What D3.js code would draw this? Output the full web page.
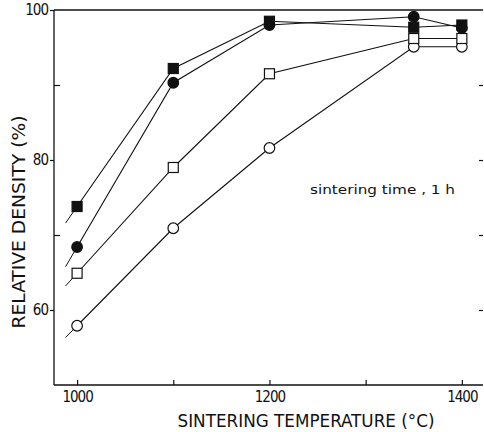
<!DOCTYPE html>
<html>
<head>
<meta charset="utf-8">
<script src="https://cdn.jsdelivr.net/npm/d3@7"></script>
<style>
  body { margin: 0; background: #fff; }
  text { font-family: "DejaVu Sans Condensed", "Liberation Sans Narrow", sans-serif; fill: #111; }
</style>
</head>
<body>
<div id="chart"></div>
<script>
// chart data
const temps = [1000, 1100, 1200, 1350, 1400];
const filledSquare = [73.8, 92.2, 98.5, 97.7, 98.0];
const filledCircle = [68.4, 90.3, 98.0, 99.1, 97.6];
const openSquare = [64.9, 79.0, 91.5, 96.2, 96.2];
const openCircle = [57.9, 70.9, 81.6, 95.1, 95.1];
const xTicks = [1000, 1100, 1200, 1300, 1400];
const xTickLabels = [1000, 1200, 1400];
const yMajor = [60, 80, 100];
const yMinor = [70, 90];

const width = 484;
const height = 432;

const series = [
    {name: "openCircle", values: openCircle, shape: "circle", fill: "#fff"},
    {name: "openSquare", values: openSquare, shape: "square", fill: "#fff"},
    {name: "filledCircle", values: filledCircle, shape: "circle", fill: "#111"},
    {name: "filledSquare", values: filledSquare, shape: "square", fill: "#111"}
];

var svg = d3.select("#chart").append("svg")
    .attr("width", width).attr("height", height);

var x = d3.scaleLinear().domain([976, 1422]).range([54, 483]);
var y = d3.scaleLinear().domain([50, 100]).range([385, 10]);

// frame
var frame = svg.append("g").attr("stroke", "#111").attr("stroke-width", 1.3);
frame.append("line").attr("x1", x(976)).attr("x2", x(976)).attr("y1", y(100)).attr("y2", y(50));
frame.append("line").attr("x1", x(976)).attr("x2", x(1422)).attr("y1", y(50)).attr("y2", y(50));
frame.append("line").attr("x1", x(976)).attr("x2", x(1422)).attr("y1", y(100)).attr("y2", y(100));

// y axis: major ticks outward, minor inward
svg.append("g")
    .attr("transform", "translate(" + x(976) + ",0)")
    .call(d3.axisLeft(y).tickValues(yMajor).tickSize(4).tickPadding(2))
    .call(g => g.select(".domain").remove())
    .call(g => g.selectAll("text").attr("font-size", 15).attr("letter-spacing", -1));
svg.append("g")
    .attr("transform", "translate(" + x(976) + ",0)")
    .call(d3.axisRight(y).tickValues(yMinor).tickSize(6).tickFormat(""))
    .call(g => g.select(".domain").remove());
// right side ticks
svg.append("g")
    .attr("transform", "translate(" + x(1422) + ",0)")
    .call(d3.axisLeft(y).tickValues(yMajor.concat(yMinor).filter(d => d < 100)).tickSize(4).tickFormat(""))
    .call(g => g.select(".domain").remove());

// x axis ticks pointing up
svg.append("g")
    .attr("transform", "translate(0," + y(50) + ")")
    .call(d3.axisTop(x).tickValues(xTicks).tickSize(5).tickFormat(""))
    .call(g => g.select(".domain").remove());
svg.append("g")
    .attr("transform", "translate(0," + y(50) + ")")
    .call(d3.axisBottom(x).tickValues(xTickLabels).tickFormat(d3.format("d")).tickSize(0).tickPadding(6))
    .call(g => g.select(".domain").remove())
    .call(g => g.selectAll("text").attr("font-size", 15).attr("letter-spacing", -1));

svg.selectAll(".tick line").attr("stroke", "#111").attr("stroke-width", 1.2);

// lines
var line = d3.line().x(d => x(d[0])).y(d => y(d[1]));
var plot = svg.append("g");

series.forEach(function (s) {
    let pts = temps.map((t, i) => [t, s.values[i]]);
    // short lead-in stub before the first point, along the first segment
    let slope = (s.values[1] - s.values[0]) / (temps[1] - temps[0]);
    let stub = [[988, s.values[0] - slope * 12], pts[0]];
    plot.append("path").attr("d", line(stub))
        .attr("fill", "none").attr("stroke", "#111").attr("stroke-width", 1);
    plot.append("path").attr("d", line(pts))
        .attr("fill", "none").attr("stroke", "#111").attr("stroke-width", 1.1);
});

series.forEach(function (s) {
    let pts = temps.map((t, i) => [t, s.values[i]]);
    if (s.shape === "circle") {
        plot.selectAll(".m-" + s.name).data(pts).enter().append("circle")
            .attr("class", "m-" + s.name)
            .attr("cx", d => x(d[0])).attr("cy", d => y(d[1]))
            .attr("r", 5.3)
            .attr("fill", s.fill).attr("stroke", "#111").attr("stroke-width", 1.2);
    } else {
        plot.selectAll(".m-" + s.name).data(pts).enter().append("rect")
            .attr("class", "m-" + s.name)
            .attr("x", d => x(d[0]) - 5).attr("y", d => y(d[1]) - 5)
            .attr("width", 10).attr("height", 10)
            .attr("fill", s.fill).attr("stroke", "#111").attr("stroke-width", 1.2);
    }
});

// labels
svg.append("text")
    .attr("x", 306).attr("y", 427)
    .attr("text-anchor", "middle")
    .attr("font-size", 18)
    .attr("textLength", 257).attr("lengthAdjust", "spacingAndGlyphs")
    .text("SINTERING TEMPERATURE (°C)");

svg.append("text")
    .attr("transform", "translate(25,222) rotate(-90)")
    .attr("text-anchor", "middle")
    .attr("font-size", 17)
    .attr("textLength", 213).attr("lengthAdjust", "spacingAndGlyphs")
    .text("RELATIVE DENSITY (%)");

svg.append("text")
    .attr("x", 310).attr("y", 194)
    .attr("font-size", 13)
    .attr("textLength", 145).attr("lengthAdjust", "spacingAndGlyphs")
    .text("sintering time , 1 h");
</script>
</body>
</html>
